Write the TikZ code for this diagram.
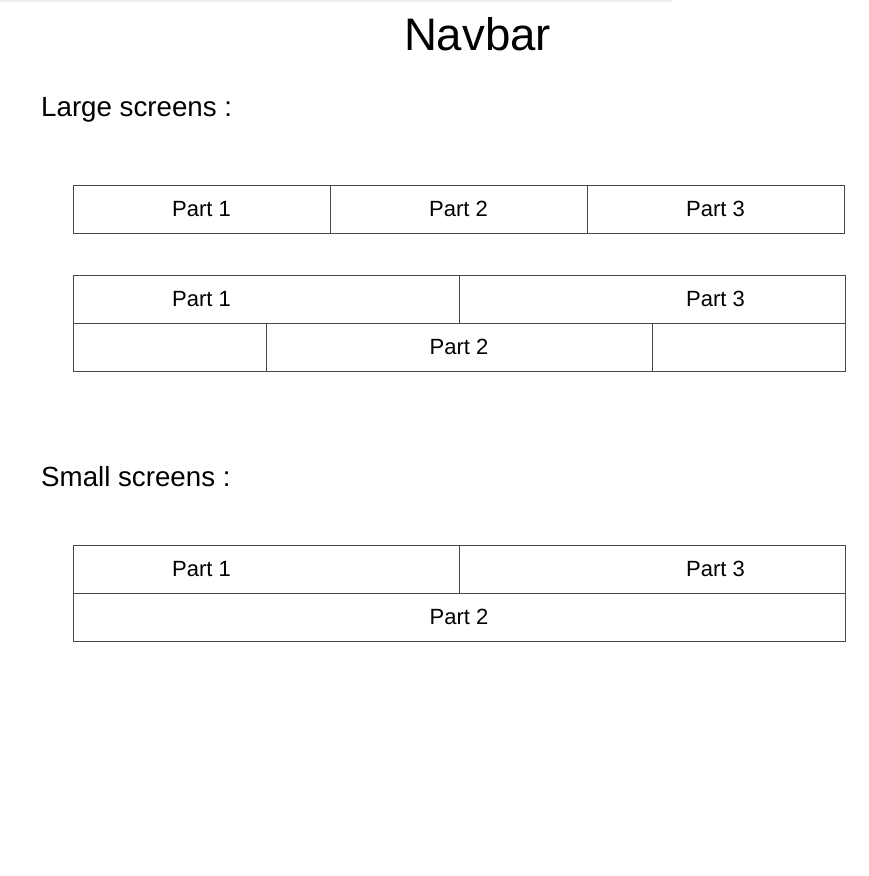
\documentclass[tikz,border=0pt]{standalone}
\usepackage{fontspec}
\setmainfont{Liberation Sans}
\usetikzlibrary{positioning}
\tikzset{
  cell/.style={draw=black!72, line width=1pt, outer sep=0pt, inner sep=0pt,
    minimum height=48pt, font=\fontsize{22}{26}\selectfont},
  celltext/.style={inner sep=0pt, font=\fontsize{22}{26}\selectfont},
  heading/.style={anchor=base west, inner sep=0pt, font=\fontsize{27.7}{32}\selectfont},
}
\begin{document}
\begin{tikzpicture}[x=1pt, y=-1pt]
	\useasboundingbox (0,0) rectangle (869,876);
	\draw[black!7, line width=1.5pt] (0,0.75) -- (672,0.75);
	
	\node[anchor=base, inner sep=0pt, font=\fontsize{45.6}{50}\selectfont] (title) at (477.5,50) {Navbar};
	\node[heading] (large) at (41,116) {Large screens :};
	\node[heading] (small) at (41,486) {Small screens :};
	
	% large screens, one row
	\node[cell, minimum width=257pt] (a1) at (201.5,209) {Part 1};
	\node[cell, minimum width=257pt, right=0pt of a1] (a2) {Part 2};
	\node[cell, minimum width=257pt, right=0pt of a2] (a3) {Part 3};
	
	% large screens, two rows
	\node[cell, minimum width=386pt] (b1) at (266,299) {};
	\node[cell, minimum width=386pt, right=0pt of b1] (b3) {};
	\node[cell, minimum width=193pt, below right=0pt and 0pt of b1.south west] (b4) {};
	\node[cell, minimum width=386pt, right=0pt of b4] (b2) {Part 2};
	\node[cell, minimum width=193pt, right=0pt of b2] (b5) {};
	\node[celltext] (b1t) at (a1 |- b1) {Part 1};
	\node[celltext] (b3t) at (a3 |- b3) {Part 3};
	
	% small screens
	\node[cell, minimum width=386pt] (c1) at (266,569) {};
	\node[cell, minimum width=386pt, right=0pt of c1] (c3) {};
	\node[cell, minimum width=772pt, below right=0pt and 0pt of c1.south west] (c2) {Part 2};
	\node[celltext] (c1t) at (a1 |- c1) {Part 1};
	\node[celltext] (c3t) at (a3 |- c3) {Part 3};
	
\end{tikzpicture}
\end{document}
